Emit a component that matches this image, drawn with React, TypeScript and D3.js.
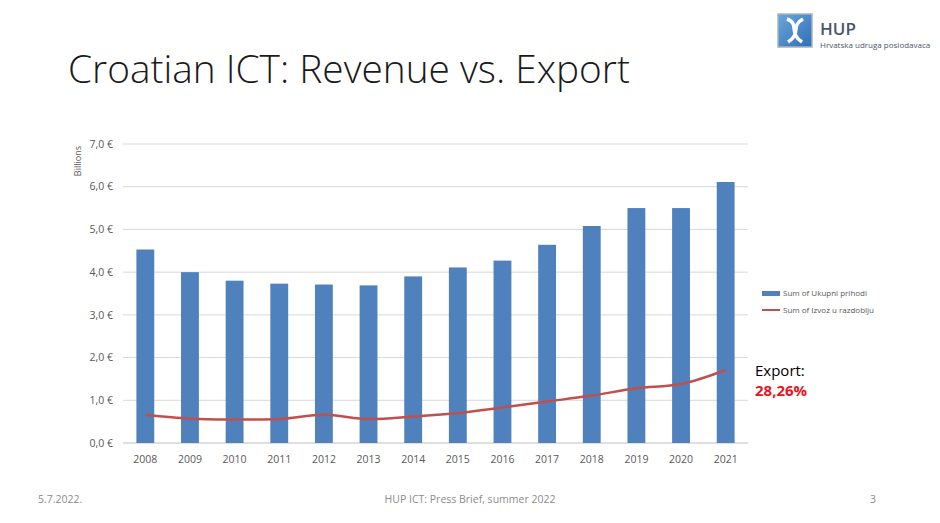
import React from 'react';
import * as d3 from 'd3';

// Values (billions of EUR)
const years = ['2008', '2009', '2010', '2011', '2012', '2013', '2014', '2015', '2016', '2017', '2018', '2019', '2020', '2021'];
const revenue = [4.53, 4.0, 3.8, 3.73, 3.71, 3.69, 3.9, 4.11, 4.27, 4.64, 5.08, 5.5, 5.5, 6.11];
const exportValues = [0.66, 0.57, 0.55, 0.56, 0.66, 0.56, 0.62, 0.7, 0.83, 0.97, 1.11, 1.28, 1.38, 1.71];
const yTicks = [0, 1, 2, 3, 4, 5, 6, 7];
const legendLabels = ['Sum of Ukupni prihodi', 'Sum of Izvoz u razdoblju'];

const W = 940;
const H = 523;
const plot = { left: 123, right: 748, top: 144, bottom: 443 };
const blue = '#4f81bd';
const red = '#c0504d';
const font = 'Open Sans, Lato, sans-serif';

const App: React.FC = () => {
  const x = d3.scaleBand().domain(years).range([plot.left, plot.right]).paddingInner(0.6).paddingOuter(0.3);
  const y = d3.scaleLinear().domain([0, 7]).range([plot.bottom, plot.top]);

  const line = d3.line<number>()
    .x((_, i) => (x(years[i]) ?? 0) + x.bandwidth() / 2)
    .y((d) => y(d))
    .curve(d3.curveCatmullRom.alpha(0.5));

  const fmt = (v: number) => v.toFixed(1).replace('.', ',') + ' €';

  return (
    <svg width={W} height={H} style={{ position: 'absolute', left: 0, top: 0, background: '#fff' }} fontFamily={font}>
      <defs>
        <linearGradient id="logoGrad" x1="0" y1="0" x2="1" y2="1">
          <stop offset="0" stopColor="#6aa6dc" />
          <stop offset="1" stopColor="#2f6fb5" />
        </linearGradient>
      </defs>
      {/* logo */}
      <g>
        <rect x={778} y={14} width={34} height={33} fill="url(#logoGrad)" stroke="#aab3bf" strokeWidth={1.5} />
        <path d="M787,19 C800,24 788,33 802,42 M803,19 C790,26 802,33 788,42" stroke="#fff" strokeWidth={3.5} fill="none" />
        <text x={820} y={35} fontSize={17} fill="#4a5668" fontWeight={600}>HUP</text>
        <text x={820} y={48} fontSize={8} fill="#4a5668">Hrvatska udruga poslodavaca</text>
      </g>

      <text x={68} y={83} fontSize={38.8} fontWeight={300} fill="#1a1a1a">Croatian ICT: Revenue vs. Export</text>

      {/* grid + y axis */}
      {yTicks.map((t) => (
        <g key={t}>
          <line x1={plot.left} x2={plot.right} y1={y(t)} y2={y(t)} stroke={t === 0 ? '#bfbfbf' : '#d9d9d9'} strokeWidth={1} />
          <text x={113} y={y(t)} dy="0.35em" textAnchor="end" fontSize={10.5} fill="#595959">{fmt(t)}</text>
        </g>
      ))}
      <text transform={`translate(81,${y(6.6)}) rotate(-90)`} textAnchor="middle" fontSize={9} fill="#595959">Billions</text>

      {/* bars */}
      {revenue.map((v, i) => (
        <rect key={years[i]} x={x(years[i])} y={y(v)} width={x.bandwidth()} height={y(0) - y(v)} fill={blue} />
      ))}

      {/* export line */}
      <path d={line(exportValues) ?? ''} fill="none" stroke={red} strokeWidth={2.5} />

      {/* x labels */}
      {years.map((yr) => (
        <text key={yr} x={(x(yr) ?? 0) + x.bandwidth() / 2} y={463} textAnchor="middle" fontSize={10.5} fill="#595959">{yr}</text>
      ))}

      {/* legend */}
      <rect x={762} y={291} width={18} height={5} fill={blue} />
      <text x={783} y={296} fontSize={8} fill="#595959">{legendLabels[0]}</text>
      <line x1={762} x2={780} y1={310} y2={310} stroke={red} strokeWidth={2} />
      <text x={783} y={313} fontSize={8} fill="#595959">{legendLabels[1]}</text>

      {/* annotation */}
      <text x={755} y={376} fontSize={15} fill="#000">Export:</text>
      <text x={755} y={396} fontSize={15} fontWeight={700} fill="#e8141c">28,26%</text>

      {/* footer */}
      <text x={38} y={503} fontSize={10.5} fill="#8c8c8c">5.7.2022.</text>
      <text x={470} y={503} textAnchor="middle" fontSize={10.5} fill="#8c8c8c">HUP ICT: Press Brief, summer 2022</text>
      <text x={873} y={503} textAnchor="middle" fontSize={10.5} fill="#8c8c8c">3</text>
    </svg>
  );
};

export default App;
